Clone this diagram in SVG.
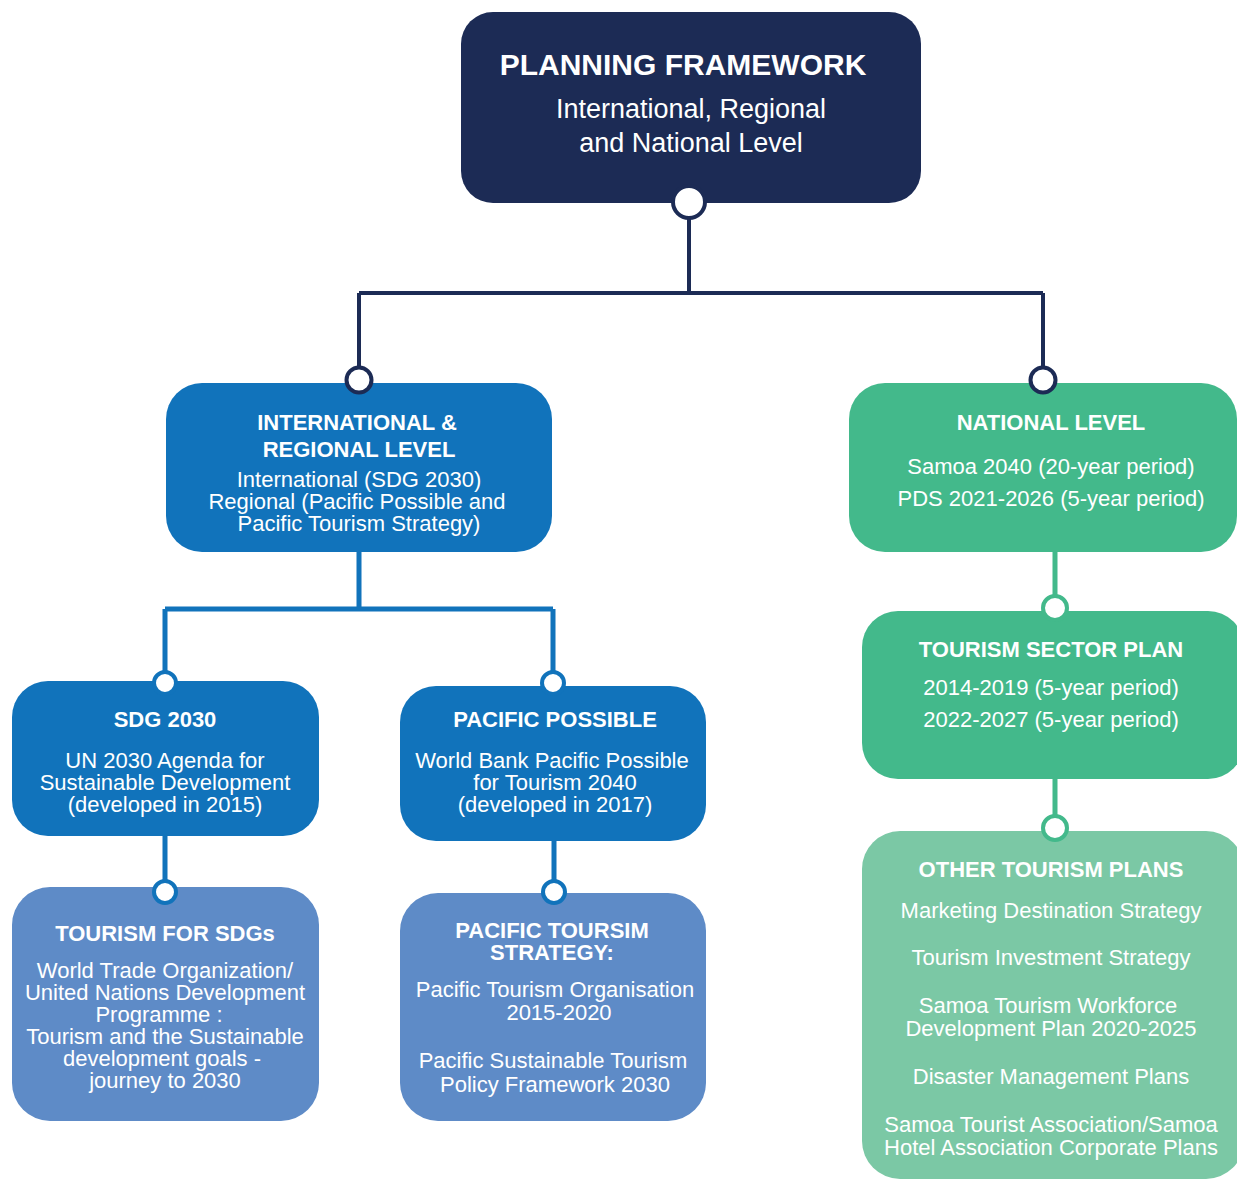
<svg xmlns="http://www.w3.org/2000/svg" width="1237" height="1181" viewBox="0 0 1237 1181">
<style>
text{font-family:"Liberation Sans",Arial,sans-serif;fill:#fff;text-anchor:middle}
.t{font-weight:bold;font-size:22px}
.b{font-size:22px}
.navy{fill:#1c2b55}
.blue{fill:#1173bb}
.lblue{fill:#5e8bc7}
.green{fill:#43b98b}
.lgreen{fill:#7bc8a5}
.cn{fill:none;stroke:#1c2b55;stroke-width:4}
.cb{fill:none;stroke:#1173bb;stroke-width:5}
.cg{fill:none;stroke:#43b98b;stroke-width:5}
.dn{fill:#fff;stroke:#1c2b55;stroke-width:4}
.db{fill:#fff;stroke:#1173bb;stroke-width:4}
.dg{fill:#fff;stroke:#43b98b;stroke-width:4}
</style>
<rect width="1237" height="1181" fill="#fff"/>
<g id="connectors">
<path class="cn" d="M689 218V293M359 293H1043M359 293V367M1043 293V367"/>
<path class="cb" d="M359 552V609M165 609H553M165 609V671M553 609V671M165 836V880M554 841V880"/>
<path class="cg" d="M1055 552V596M1055 779V816"/>
</g>
<g id="n-planning">
<rect class="navy" x="461" y="12" width="460" height="191" rx="32"/>
<text x="683" y="75" style="font-weight:bold;font-size:30px">PLANNING FRAMEWORK</text>
<text x="691" y="118" style="font-size:27px">International, Regional</text>
<text x="691" y="152" style="font-size:27px">and National Level</text>
<circle class="dn" cx="689" cy="202" r="16"/>
</g>
<g id="n-intl">
<rect class="blue" x="166" y="383" width="386" height="169" rx="36"/>
<text class="t" x="357" y="430">INTERNATIONAL &amp;</text>
<text class="t" x="359" y="457">REGIONAL LEVEL</text>
<text class="b" x="359" y="487">International (SDG 2030)</text>
<text class="b" x="357" y="509">Regional (Pacific Possible and</text>
<text class="b" x="359" y="531">Pacific Tourism Strategy)</text>
<circle class="dn" cx="359" cy="380" r="12.5"/>
</g>
<g id="n-national">
<rect class="green" x="849" y="383" width="388" height="169" rx="36"/>
<text class="t" x="1051" y="430">NATIONAL LEVEL</text>
<text class="b" x="1051" y="474">Samoa 2040 (20-year period)</text>
<text class="b" x="1051" y="506">PDS 2021-2026 (5-year period)</text>
<circle class="dn" cx="1043" cy="380" r="12.5"/>
</g>
<g id="n-sdg">
<rect class="blue" x="12" y="681" width="307" height="155" rx="36"/>
<text class="t" x="165" y="727">SDG 2030</text>
<text class="b" x="165" y="768">UN 2030 Agenda for</text>
<text class="b" x="165" y="790">Sustainable Development</text>
<text class="b" x="165" y="812">(developed in 2015)</text>
<circle class="db" cx="165" cy="683" r="11"/>
</g>
<g id="n-pacific-possible">
<rect class="blue" x="400" y="686" width="306" height="155" rx="36"/>
<text class="t" x="555" y="727">PACIFIC POSSIBLE</text>
<text class="b" x="552" y="768">World Bank Pacific Possible</text>
<text class="b" x="555" y="790">for Tourism 2040</text>
<text class="b" x="555" y="812">(developed in 2017)</text>
<circle class="db" cx="553" cy="683" r="11"/>
</g>
<g id="n-tourism-sdgs">
<rect class="lblue" x="12" y="887" width="307" height="234" rx="38"/>
<text class="t" x="165" y="941">TOURISM FOR SDGs</text>
<text class="b" x="165" y="978">World Trade Organization/</text>
<text class="b" x="165" y="1000">United Nations Development</text>
<text class="b" x="159" y="1022">Programme :</text>
<text class="b" x="165" y="1044">Tourism and the Sustainable</text>
<text class="b" x="162" y="1066">development goals -</text>
<text class="b" x="165" y="1088">journey to 2030</text>
<circle class="db" cx="165" cy="892" r="11"/>
</g>
<g id="n-pts">
<rect class="lblue" x="400" y="893" width="306" height="228" rx="38"/>
<text class="t" x="552" y="938">PACIFIC TOURSIM</text>
<text class="t" x="552" y="960">STRATEGY:</text>
<text class="b" x="555" y="997">Pacific Tourism Organisation</text>
<text class="b" x="559" y="1020">2015-2020</text>
<text class="b" x="553" y="1068">Pacific Sustainable Tourism</text>
<text class="b" x="555" y="1092">Policy Framework 2030</text>
<circle class="db" cx="554" cy="892" r="11"/>
</g>
<g id="n-tsp">
<rect class="green" x="862" y="611" width="382" height="168" rx="36"/>
<text class="t" x="1051" y="657">TOURISM SECTOR PLAN</text>
<text class="b" x="1051" y="695">2014-2019 (5-year period)</text>
<text class="b" x="1051" y="727">2022-2027 (5-year period)</text>
<circle class="dg" cx="1055" cy="608" r="12"/>
</g>
<g id="n-other">
<rect class="lgreen" x="862" y="831" width="382" height="348" rx="38"/>
<text class="t" x="1051" y="877">OTHER TOURISM PLANS</text>
<text class="b" x="1051" y="918">Marketing Destination Strategy</text>
<text class="b" x="1051" y="965">Tourism Investment Strategy</text>
<text class="b" x="1048" y="1013">Samoa Tourism Workforce</text>
<text class="b" x="1051" y="1036">Development Plan 2020-2025</text>
<text class="b" x="1051" y="1084">Disaster Management Plans</text>
<text class="b" x="1051" y="1132">Samoa Tourist Association/Samoa</text>
<text class="b" x="1051" y="1155">Hotel Association Corporate Plans</text>
<circle class="dg" cx="1055" cy="828" r="12"/>
</g>
</svg>
